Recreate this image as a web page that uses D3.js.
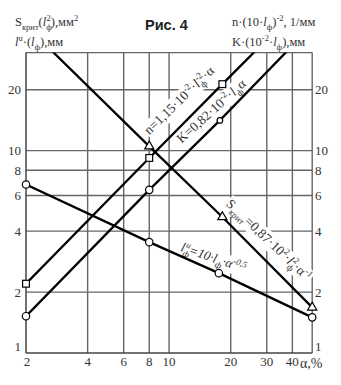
<!DOCTYPE html>
<html><head><meta charset="utf-8">
<script src="https://cdn.jsdelivr.net/npm/d3@7"></script>
<style>
html,body{margin:0;padding:0;background:#fff;}
svg text{font-family:"Liberation Serif","Times New Roman",serif;fill:#333;}
</style></head>
<body><svg id="c" width="341" height="385"></svg>
<script>
// ---- data ----
const xTicks = [2, 4, 6, 8, 10, 20, 30, 40];
const yTicks = [1, 2, 4, 6, 8, 10, 20];
const xGrid = [4, 6, 8, 10, 20, 30, 40, 50];
const yGrid = [2, 4, 6, 8, 10, 20, 30.5];

// S_крит (triangles)
const sA = [2.6, 8, 18.2, 50];
const sV = [32, 10.5, 4.7, 1.68];
const sMark = [false, true, true, true];
// n (squares)
const nA = [2, 8, 18.2, 28];
const nV = [2.2, 9.2, 21.3, 33];
const nMark = [true, true, true, false];
// K (circles)
const kA = [2, 8, 17.7, 40];
const kV = [1.52, 6.4, 14.1, 33];
const kMark = [true, true, true, false];
// l^u (circles)
const lA = [2, 8, 17.5, 50];
const lV = [6.8, 3.53, 2.48, 1.5];
const lMark = [true, true, true, true];

const svg = d3.select("#c");
const x = d3.scaleLog().domain([2, 50]).range([26, 312.2]);
const y = d3.scaleLog().domain([1, 30.5]).range([353, 52.6]);

svg.append("defs").append("clipPath").attr("id", "clip")
  .append("rect").attr("x", 26).attr("y", 52.6).attr("width", 286.2).attr("height", 300.4);

const gridCol = "#666";
// grid
const g = svg.append("g");
g.selectAll(".vx").data(xGrid).join("line")
  .attr("x1", d => x(d)).attr("x2", d => x(d)).attr("y1", y(1)).attr("y2", y(30.5))
  .attr("stroke", gridCol).attr("stroke-width", 1.4);
g.selectAll(".hy").data(yGrid).join("line")
  .attr("y1", d => y(d)).attr("y2", d => y(d)).attr("x1", x(2)).attr("x2", x(50))
  .attr("stroke", gridCol).attr("stroke-width", 1.4);
// axes
g.append("line").attr("x1", x(2)).attr("x2", x(2)).attr("y1", y(1)).attr("y2", y(30.5)).attr("stroke", "#444").attr("stroke-width", 1.5);
g.append("line").attr("x1", x(2)).attr("x2", x(50)).attr("y1", y(1)).attr("y2", y(1)).attr("stroke", "#444").attr("stroke-width", 1.5);

// tick labels
const fmt = d => String(d);
svg.append("g").selectAll("text").data(xTicks).join("text")
  .attr("x", d => x(d) + (d === 2 ? 1 : 0)).attr("y", 366).attr("text-anchor", "middle")
  .attr("font-size", 13).text(fmt);
svg.append("g").selectAll("text").data(yTicks).join("text")
  .attr("x", 21).attr("y", d => y(d) + (d === 1 ? -2 : 4.5)).attr("text-anchor", "end")
  .attr("font-size", 13).text(fmt);
svg.append("g").selectAll("text").data(yTicks).join("text")
  .attr("x", 315).attr("y", d => y(d) + (d === 1 ? -2 : 4.5)).attr("text-anchor", "start")
  .attr("font-size", 13).text(fmt);
svg.append("text").attr("x", 300).attr("y", 368).attr("font-size", 14).text("α,%");

// rich text helper: parts = [[str, kind]]
function rich(t, parts, fs) {
  let cur = 0;
  parts.forEach(([s, k]) => {
    const ts = t.append("tspan");
    let target = 0, size = fs, dx = 0, ital = false;
    if (k === "sub") { target = 0.3 * fs; size = fs * 0.68; }
    else if (k === "sup") { target = -0.4 * fs; size = fs * 0.68; }
    else if (k === "stsup") { target = -0.4 * fs; size = fs * 0.68; dx = -0.42 * fs; }
    else if (k === "i") { ital = true; }
    ts.attr("dy", target - cur).attr("font-size", size);
    if (dx) ts.attr("dx", dx);
    if (ital) ts.attr("font-style", "italic");
    ts.text(s);
    cur = target;
  });
  return t;
}

// titles
rich(svg.append("text").attr("x", 15).attr("y", 26), [["S",""],["крит","sub"],["(",""],["l","i"],["ф","sub"],["2","stsup"],["),мм",""],["2","sup"]], 12.5);
rich(svg.append("text").attr("x", 15).attr("y", 46), [["l","i"],["u","sup"],["·(",""],["l","i"],["ф","sub"],["),мм",""]], 12.5);
svg.append("text").attr("x", 145).attr("y", 30).attr("font-size", 14.5).attr("font-weight", "bold")
  .style("font-family", "'Liberation Sans', Arial, sans-serif").style("fill", "#222").text("Рис. 4");
rich(svg.append("text").attr("x", 232).attr("y", 26), [["n·(10·",""],["l","i"],["ф","sub"],[")",""],["-2","sup"],[", 1/мм",""]], 12.5);
rich(svg.append("text").attr("x", 232).attr("y", 46), [["K·(10",""],["-2","sup"],["·",""],["l","i"],["ф","sub"],["),мм",""]], 12.5);

// line labels (with white background that hides the grid)
function label(a, v, ang, parts, fs, italic) {
  const gg = svg.append("g").attr("transform", `translate(${x(a)},${y(v)}) rotate(${ang})`);
  const bg = gg.append("rect").attr("fill", "#fff");
  const t = gg.append("text").attr("font-size", fs);
  if (italic) t.attr("font-style", "italic");
  rich(t, parts, fs);
  const b = t.node().getBBox();
  bg.attr("x", b.x - 1).attr("y", b.y + 1).attr("width", b.width + 2).attr("height", b.height - 2);
  return gg;
}
label(8.0, 11.9, -44, [["n=1,15·10",""],["-2","sup"],["·",""],["l","i"],["ф","sub"],["-2","stsup"],["·α",""]], 13.5);
label(11.5, 10.8, -42, [["K=0,82·10",""],["-2","sup"],["·",""],["l","i"],["ф","sub"],["α",""]], 13.5);
label(18.8, 5.4, 43.5, [["S",""],["крит","sub"],["=0,87·10",""],["2","sup"],["·",""],["l","i"],["ф","sub"],["2","stsup"],["·α",""],["-1","sup"]], 13.5);
label(11.3, 3.2, 19, [["l","i"],["ф","sub"],["u","stsup"],["=10·",""],["l","i"],["ф","sub"],["·α",""],["-0,5","sup"]], 13, true);

// data lines
const series = [
  {a: sA, v: sV, m: sMark, shape: "tri"},
  {a: nA, v: nV, m: nMark, shape: "sq"},
  {a: kA, v: kV, m: kMark, shape: "circ"},
  {a: lA, v: lV, m: lMark, shape: "circ"}
];
const line = d3.line().x(d => x(d[0])).y(d => y(d[1]));
const lg = svg.append("g").attr("clip-path", "url(#clip)");
series.forEach(s => {
  const pts = s.a.map((a, i) => [a, s.v[i]]);
  lg.append("path").attr("d", line(pts)).attr("fill", "none").attr("stroke", "#000").attr("stroke-width", 2.3);
});
// markers
const mg = svg.append("g");
series.forEach((s, si) => {
  s.a.forEach((a, i) => {
    if (!s.m[i]) return;
    const cx = x(a), cy = y(s.v[i]);
    if (s.shape === "circ") {
      const r = (si === 2 && i === 2) ? 2.8 : 3.7;
      mg.append("circle").attr("cx", cx).attr("cy", cy).attr("r", r)
        .attr("fill", "#fff").attr("stroke", "#000").attr("stroke-width", 1.2);
    } else if (s.shape === "sq") {
      mg.append("rect").attr("x", cx - 3.4).attr("y", cy - 3.4).attr("width", 6.8).attr("height", 6.8)
        .attr("fill", "#fff").attr("stroke", "#000").attr("stroke-width", 1.2);
    } else {
      mg.append("path").attr("d", d3.symbol().type(d3.symbolTriangle).size(36)())
        .attr("transform", `translate(${cx},${cy})`)
        .attr("fill", "#fff").attr("stroke", "#000").attr("stroke-width", 1.2);
    }
  });
});
</script></body></html>
